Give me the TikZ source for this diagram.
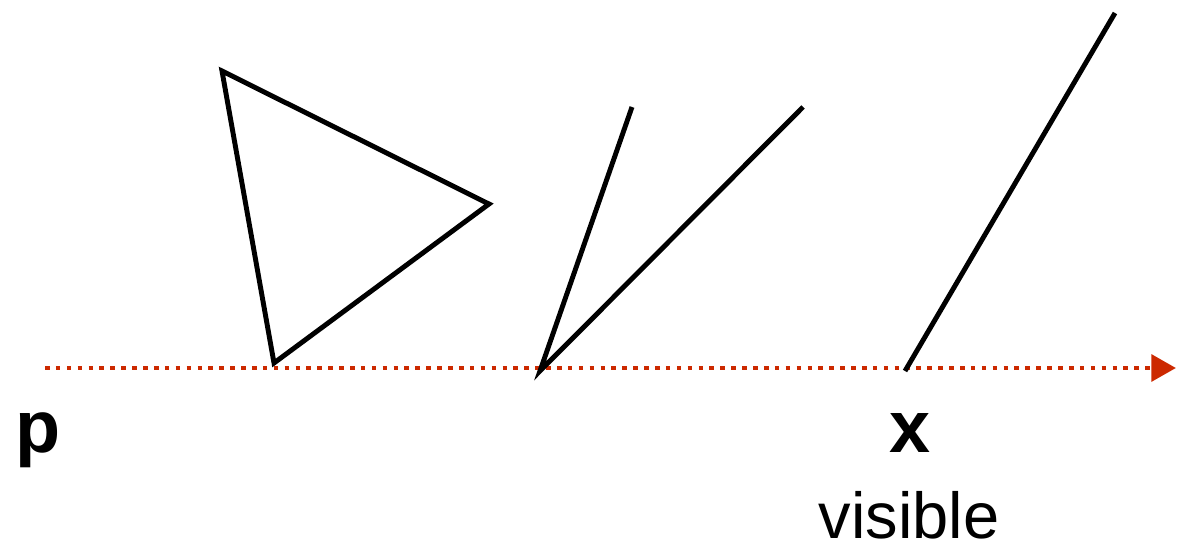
\documentclass[tikz,border=0pt]{standalone}
\usepackage{fontspec}
\setmainfont{Liberation Sans}
\usepackage{tikz}
\usetikzlibrary{arrows.meta,positioning}
\definecolor{ray}{RGB}{204,41,0}
\tikzset{
  edge/.style={draw=black, line width=2.8pt, line join=miter},
  rayline/.style={draw=ray, line width=2.8pt, dash pattern=on 2.6pt off 3.6pt,
    -{Triangle[length=14pt,width=15pt]}},
  ptlbl/.style={font=\fontsize{42}{42}\selectfont\bfseries, inner sep=0pt, anchor=base},
  vislbl/.style={font=\fontsize{37}{37}\selectfont, inner sep=0pt, anchor=base}
}
\begin{document}
\begin{tikzpicture}[x=0.02cm, y=-0.02cm]
    \useasboundingbox (0,0) rectangle (1190,557);
    % ray from p
    \coordinate (start) at (45,368);
    \coordinate (tip)   at (1176,368);
    \draw[rayline] (start) -- (tip);
    % triangle
    \coordinate (ta) at (222,71);
    \coordinate (tb) at (489,204);
    \coordinate (tc) at (274,363);
    \draw[edge] (ta) -- (tb) -- (tc) -- cycle;
    % two segments from one point
    \coordinate (v)  at (540,371);
    \coordinate (v1) at (632,107);
    \coordinate (v2) at (803,107);
    \draw[edge] (v1) -- (v) -- (v2);
    % segment at x
    \coordinate (s0) at (905,371);
    \coordinate (s1) at (1115,13);
    \draw[edge] (s0) -- (s1);
    % labels
    \node[ptlbl] (p) at (38,452) {p};
    \node[ptlbl] (x) at (910,452) {x};
    \node[vislbl] (vis) at (909,538) {visible};
\end{tikzpicture}
\end{document}
